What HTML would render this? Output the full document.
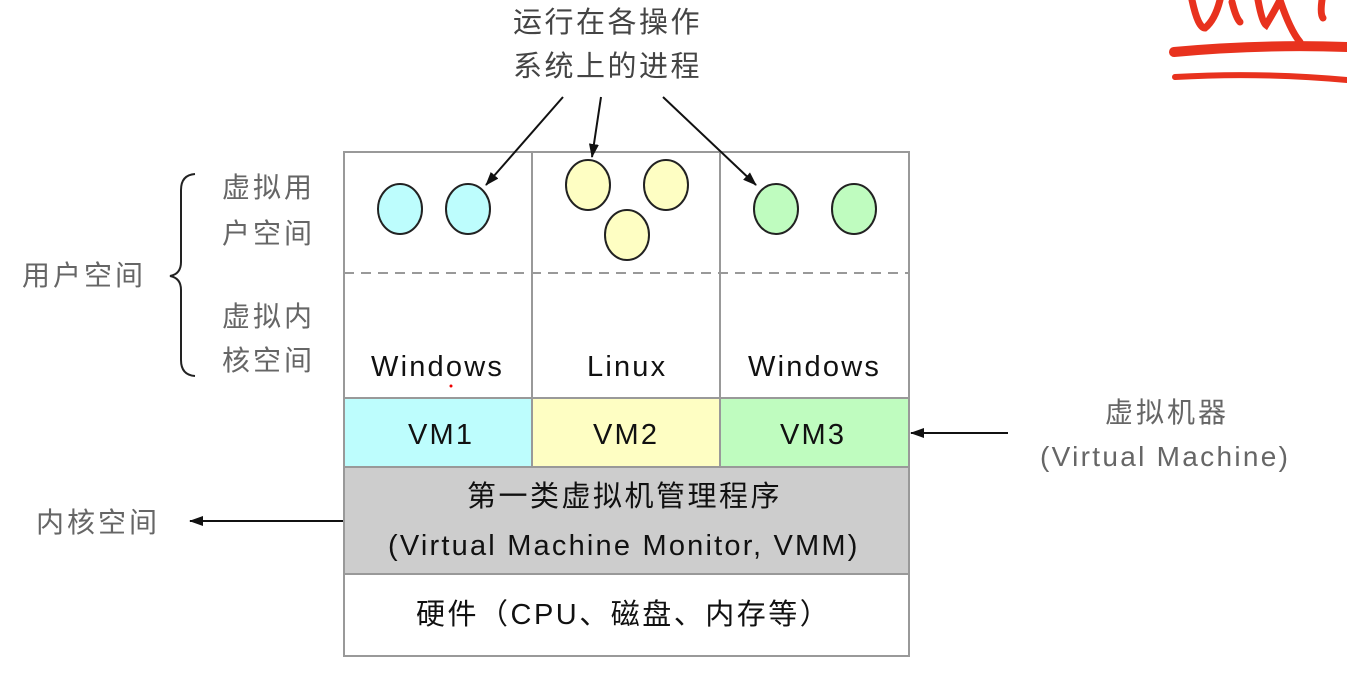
<!DOCTYPE html>
<html><head><meta charset="utf-8"><style>
html,body{margin:0;padding:0;background:#fff;}
svg{display:block}
text{font-family:"Liberation Sans","Noto Sans CJK SC",sans-serif;}
</style></head><body>
<svg width="1347" height="685" viewBox="0 0 1347 685" xmlns="http://www.w3.org/2000/svg">
<defs>
<marker id="ah2" markerWidth="14" markerHeight="10" refX="13" refY="5" orient="auto" markerUnits="userSpaceOnUse">
<path d="M0,0 L14,5 L0,10 z" fill="#111"/></marker>
</defs>
<g stroke="#e8321e" fill="none" stroke-linecap="round" stroke-width="7">
<path d="M1192,0 Q1198,28 1205,28 Q1215,20 1220,0"/>
<path d="M1232,2 Q1236,18 1240,22"/>
<path d="M1258,0 Q1262,22 1266,25 Q1275,10 1280,0 Q1290,30 1300,42"/>
<path d="M1322,0 Q1320,14 1323,18"/>
<path d="M1174,52 Q1260,44 1347,47" stroke-width="10"/>
<path d="M1175,77 Q1260,72 1347,80" stroke-width="6"/>
</g>
<g font-size="29" fill="#444" letter-spacing="2.5">
<text x="513" y="32">运行在各操作</text>
<text x="513" y="76">系统上的进程</text>
</g>
<rect x="344" y="398" width="188" height="69" fill="#bdfdfd"/>
<rect x="532" y="398" width="188" height="69" fill="#fefec3"/>
<rect x="720" y="398" width="189" height="69" fill="#bffcbf"/>
<rect x="344" y="467" width="565" height="107" fill="#cdcdcd"/>
<g stroke="#999" stroke-width="2" fill="none">
<rect x="344" y="152" width="565" height="504"/>
<line x1="532" y1="152" x2="532" y2="467"/>
<line x1="720" y1="152" x2="720" y2="467"/>
<line x1="344" y1="398" x2="909" y2="398"/>
<line x1="344" y1="467" x2="909" y2="467"/>
<line x1="344" y1="574" x2="909" y2="574"/>
<line x1="344" y1="273" x2="909" y2="273" stroke-dasharray="10,7"/>
</g>
<g stroke="#222" stroke-width="2">
<ellipse cx="400" cy="209" rx="22" ry="25" fill="#bdfdfd"/>
<ellipse cx="468" cy="209" rx="22" ry="25" fill="#bdfdfd"/>
<ellipse cx="588" cy="185" rx="22" ry="25" fill="#fefec3"/>
<ellipse cx="666" cy="185" rx="22" ry="25" fill="#fefec3"/>
<ellipse cx="627" cy="235" rx="22" ry="25" fill="#fefec3"/>
<ellipse cx="776" cy="209" rx="22" ry="25" fill="#bffcbf"/>
<ellipse cx="854" cy="209" rx="22" ry="25" fill="#bffcbf"/>
</g>
<g stroke="#111" stroke-width="2">
<line x1="563" y1="97" x2="486" y2="185" marker-end="url(#ah2)"/>
<line x1="601" y1="97" x2="592" y2="157" marker-end="url(#ah2)"/>
<line x1="663" y1="97" x2="756" y2="185" marker-end="url(#ah2)"/>
<line x1="1008" y1="433" x2="911" y2="433" marker-end="url(#ah2)"/>
<line x1="343" y1="521" x2="190" y2="521" marker-end="url(#ah2)"/>
</g>
<g font-size="29" fill="#111" letter-spacing="2.2">
<text x="371" y="376">Windows</text>
<text x="587" y="376">Linux</text>
<text x="748" y="376">Windows</text>
<text x="408" y="444">VM1</text>
<text x="593" y="444">VM2</text>
<text x="780" y="444">VM3</text>
<text x="388" y="555">(Virtual Machine Monitor, VMM)</text>
</g>
<g font-size="29" fill="#111" letter-spacing="2.5">
<text x="467" y="506">第一类虚拟机管理程序</text>
<text x="416" y="624">硬件（CPU、磁盘、内存等）</text>
</g>
<circle cx="451" cy="386" r="1.5" fill="#e00"/>
<g font-size="28" fill="#666" letter-spacing="3">
<text x="222" y="197">虚拟用</text>
<text x="222" y="243">户空间</text>
<text x="222" y="326">虚拟内</text>
<text x="222" y="370">核空间</text>
<text x="22" y="285">用户空间</text>
<text x="36" y="532">内核空间</text>
<text x="1105" y="422">虚拟机器</text>
</g>
<text x="1040" y="466" font-size="28" fill="#666" letter-spacing="2.3">(Virtual Machine)</text>
<path d="M195,174 Q181,175 181,190 L181,262 Q181,274 170,276 Q181,278 181,290 L181,360 Q181,375 195,376" stroke="#222" stroke-width="2" fill="none"/>
</svg>
</body></html>
